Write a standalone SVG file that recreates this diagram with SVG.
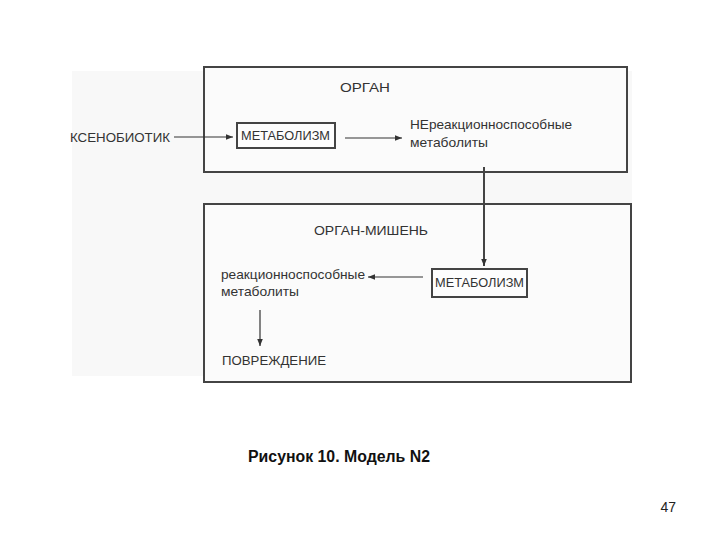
<svg xmlns="http://www.w3.org/2000/svg" width="720" height="540" viewBox="0 0 720 540">
<defs>
<style>
.lbl{font-family:"Liberation Sans",Arial,sans-serif;font-size:13px;fill:#333}
.frame{fill:#fbfbfb;stroke:#444;stroke-width:2}
.box{fill:#fdfdfd;stroke:#444;stroke-width:2}
.conn{stroke:#333;stroke-width:1.2;fill:none}
.thick{stroke:#444;stroke-width:2;fill:none}
.cap{font-family:"Liberation Sans",Arial,sans-serif;font-size:16px;font-weight:bold;fill:#111}
</style>
<marker id="ah" viewBox="0 0 10 10" refX="10" refY="5" markerWidth="9" markerHeight="7" markerUnits="userSpaceOnUse" orient="auto">
<path d="M0,1 L10,5 L0,9 Z" fill="#333"/>
</marker>
</defs>
<rect x="0" y="0" width="720" height="540" fill="#ffffff"/>
<rect x="72" y="71" width="560" height="305" fill="#f8f8f8"/>
<g id="organ">
<rect class="frame" x="204" y="67" width="423" height="105"/>
<text class="lbl" x="340" y="92" textLength="50" lengthAdjust="spacingAndGlyphs">ОРГАН</text>
</g>
<g id="target-organ">
<rect class="frame" x="204" y="204" width="427" height="178"/>
<text class="lbl" x="314" y="235" textLength="114" lengthAdjust="spacingAndGlyphs">ОРГАН-МИШЕНЬ</text>
</g>
<g id="xenobiotic">
<text class="lbl" x="70" y="142" textLength="100" lengthAdjust="spacingAndGlyphs">КСЕНОБИОТИК</text>
</g>
<g id="metabolism1">
<rect class="box" x="237" y="123" width="98" height="25"/>
<text class="lbl" x="241" y="140" textLength="89" lengthAdjust="spacingAndGlyphs">МЕТАБОЛИЗМ</text>
</g>
<g id="nonreactive">
<text class="lbl" x="410" y="129" textLength="162" lengthAdjust="spacingAndGlyphs">НЕреакционноспособные</text>
<text class="lbl" x="410" y="147" textLength="78" lengthAdjust="spacingAndGlyphs">метаболиты</text>
</g>
<g id="metabolism2">
<rect class="box" x="432" y="269" width="95" height="28"/>
<text class="lbl" x="435" y="287" textLength="89" lengthAdjust="spacingAndGlyphs">МЕТАБОЛИЗМ</text>
</g>
<g id="reactive">
<text class="lbl" x="221" y="279" textLength="144" lengthAdjust="spacingAndGlyphs">реакционноспособные</text>
<text class="lbl" x="221" y="296" textLength="78" lengthAdjust="spacingAndGlyphs">метаболиты</text>
</g>
<g id="damage">
<text class="lbl" x="222" y="365" textLength="104" lengthAdjust="spacingAndGlyphs">ПОВРЕЖДЕНИЕ</text>
</g>
<g id="connectors">
<line class="conn" x1="174" y1="137" x2="233" y2="137" marker-end="url(#ah)"/>
<line class="conn" x1="345" y1="138" x2="402" y2="138" marker-end="url(#ah)"/>
<line class="thick" x1="484" y1="167" x2="484" y2="266" marker-end="url(#ah)"/>
<line class="conn" x1="423" y1="277" x2="368" y2="277" marker-end="url(#ah)"/>
<line class="conn" x1="260" y1="310" x2="260" y2="346" marker-end="url(#ah)"/>
</g>
<text class="cap" x="248" y="462" textLength="182" lengthAdjust="spacingAndGlyphs">Рисунок 10. Модель N2</text>
<text x="676" y="512" text-anchor="end" font-family="'Liberation Sans',Arial,sans-serif" font-size="14" fill="#222">47</text>
</svg>
